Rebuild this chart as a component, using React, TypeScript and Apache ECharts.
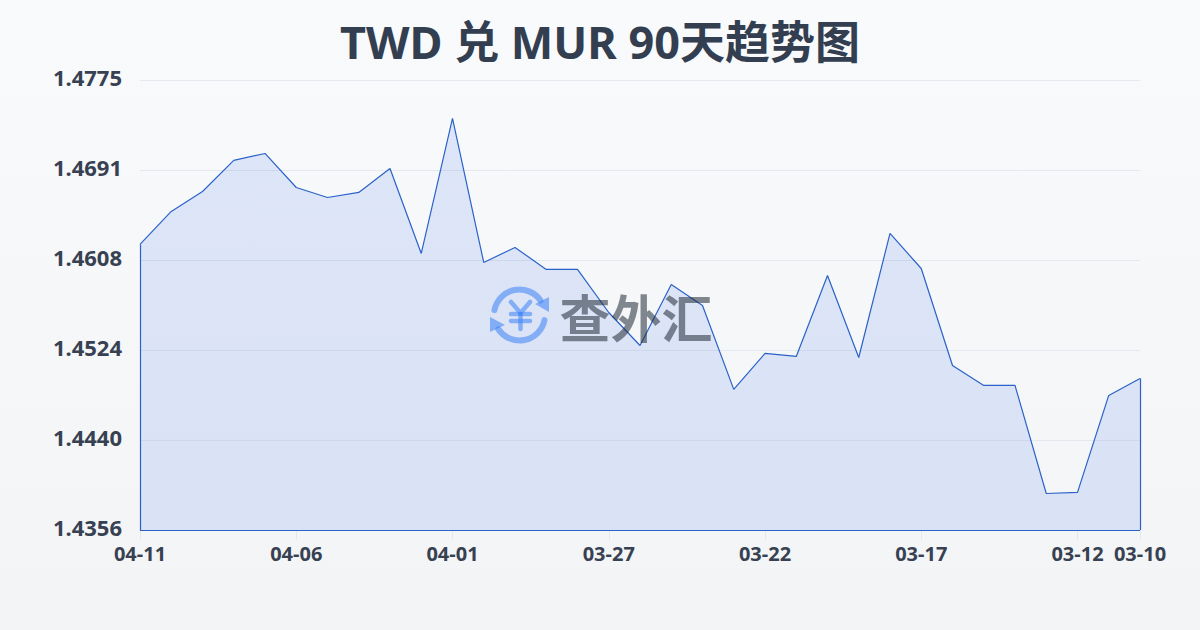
import React, { useEffect, useRef } from "react";
import * as echarts from "echarts";

const titleText = "TWD 兑 MUR 90天趋势图";
const watermarkText = "查外汇";
const dates = ["04-11","04-10","04-09","04-08","04-07","04-06","04-05","04-04","04-03","04-02","04-01","03-31","03-30","03-29","03-28","03-27","03-26","03-25","03-24","03-23","03-22","03-21","03-20","03-19","03-18","03-17","03-16","03-15","03-14","03-13","03-12","03-11","03-10"];
const rates = [1.46219,1.46526,1.46712,1.47001,1.47066,1.46749,1.46656,1.46703,1.46926,1.46135,1.47392,1.46051,1.46191,1.45986,1.45986,1.45585,1.45278,1.45846,1.45651,1.44869,1.45204,1.45176,1.4593,1.45166,1.46321,1.45995,1.45092,1.44906,1.44906,1.439,1.4391,1.44813,1.44971];
const yTicks = [1.4356, 1.44398, 1.45238, 1.46076, 1.46912, 1.4775];
const yMin = 1.4356;
const yMax = 1.4775;
const labelEvery = 5;

const LINE = "#2b62c9";
const TEXT = "#374151";
const GRID = "#e4e8ef";
const FONT = "'Noto Sans','Noto Sans CJK SC',sans-serif";
const ICON = "#3b82f6";
const MARK = "#1f2937";
const WM_OPACITY = 0.55;
const WM_Z = 20;

const showLabel = (i: number) => i % labelEvery === 0 || i === dates.length - 1;

export default function App() {
  const ref = useRef<HTMLDivElement>(null);
  useEffect(() => {
    const chart = echarts.init(ref.current!, null, { renderer: "svg" });
    const last = dates.length - 1;
    const stroke = { stroke: ICON, lineWidth: 4.5, fill: "none", lineCap: "round", lineJoin: "round" };
    const ring = { stroke: ICON, lineWidth: 6, fill: "none", lineCap: "round" };
    chart.setOption({
      animation: false,
      backgroundColor: {
        type: "linear", x: 0, y: 0, x2: 0, y2: 1,
        colorStops: [{ offset: 0, color: "#f8fafc" }, { offset: 1, color: "#f3f4f6" }],
      },
      title: {
        text: titleText, left: "center", top: 14,
        textStyle: { fontFamily: FONT, fontSize: 45, fontWeight: 700, color: "#333f50" },
      },
      grid: { left: 140, right: 60, top: 80, bottom: 100 },
      xAxis: {
        type: "category", data: dates, boundaryGap: false,
        axisLine: { show: false },
        axisTick: { show: true, length: 10, alignWithLabel: true, interval: (i: number) => showLabel(i), lineStyle: { color: GRID } },
        axisLabel: {
          interval: (i: number) => showLabel(i), margin: 13, hideOverlap: false,
          fontFamily: FONT, fontSize: 20, fontWeight: 700, color: TEXT,
        },
      },
      yAxis: {
        type: "value", min: yMin, max: yMax,
        axisLine: { show: false },
        axisTick: { show: false, customValues: yTicks },
        splitLine: { show: true, lineStyle: { color: GRID, width: 1 } },
        axisLabel: {
          customValues: yTicks, margin: 18, formatter: (v: number) => v.toFixed(4),
          fontFamily: FONT, fontSize: 22, fontWeight: 700, color: TEXT,
          verticalAlign: "bottom", lineHeight: 6,
        },
      },
      graphic: [{
        type: "group", z: WM_Z, silent: true,
        children: [
          { type: "arc", z: WM_Z, shape: { cx: 519.5, cy: 315, r: 25.5, startAngle: -2.95, endAngle: -0.6 }, style: { ...ring, opacity: WM_OPACITY } },
          { type: "arc", z: WM_Z, shape: { cx: 519.5, cy: 315, r: 25.5, startAngle: 0.2, endAngle: 2.55 }, style: { ...ring, opacity: WM_OPACITY } },
          { type: "polygon", z: WM_Z, shape: { points: [[549, 297], [549, 312], [535, 304]] }, style: { fill: ICON, opacity: WM_OPACITY } },
          { type: "polygon", z: WM_Z, shape: { points: [[490, 317], [490, 332], [505, 325]] }, style: { fill: ICON, opacity: WM_OPACITY } },
          { type: "polyline", z: WM_Z, shape: { points: [[511, 302], [520.5, 313], [530, 302]] }, style: { ...stroke, opacity: WM_OPACITY } },
          { type: "line", z: WM_Z, shape: { x1: 511, y1: 314, x2: 530, y2: 314 }, style: { ...stroke, opacity: WM_OPACITY } },
          { type: "line", z: WM_Z, shape: { x1: 511, y1: 321, x2: 530, y2: 321 }, style: { ...stroke, opacity: WM_OPACITY } },
          { type: "line", z: WM_Z, shape: { x1: 520.5, y1: 314, x2: 520.5, y2: 329 }, style: { ...stroke, opacity: WM_OPACITY } },
          { type: "text", z: WM_Z, x: 636, y: 316, style: { text: watermarkText, x: 0, y: 0, align: "center", verticalAlign: "middle", font: "700 51px 'Noto Sans CJK SC'", fill: MARK, opacity: WM_OPACITY } },
        ],
      }],
      series: [{
        type: "line", data: rates, symbol: "none", z: 2,
        lineStyle: { color: LINE, width: 1.2 },
        areaStyle: { color: "rgba(37,99,235,0.18)", origin: "start" },
        markLine: {
          silent: true, symbol: "none", label: { show: false },
          lineStyle: { color: LINE, width: 1.2, type: "solid" },
          data: [
            [{ xAxis: dates[0], yAxis: yMin }, { xAxis: dates[0], yAxis: rates[0] }],
            [{ xAxis: dates[last], yAxis: yMin }, { xAxis: dates[last], yAxis: rates[last] }],
            [{ xAxis: dates[0], yAxis: yMin }, { xAxis: dates[last], yAxis: yMin }],
          ],
        },
      }],
    });
    return () => chart.dispose();
  }, []);
  return <div ref={ref} style={{ position: "fixed", left: 0, top: 0, width: 1200, height: 630 }} />;
}
